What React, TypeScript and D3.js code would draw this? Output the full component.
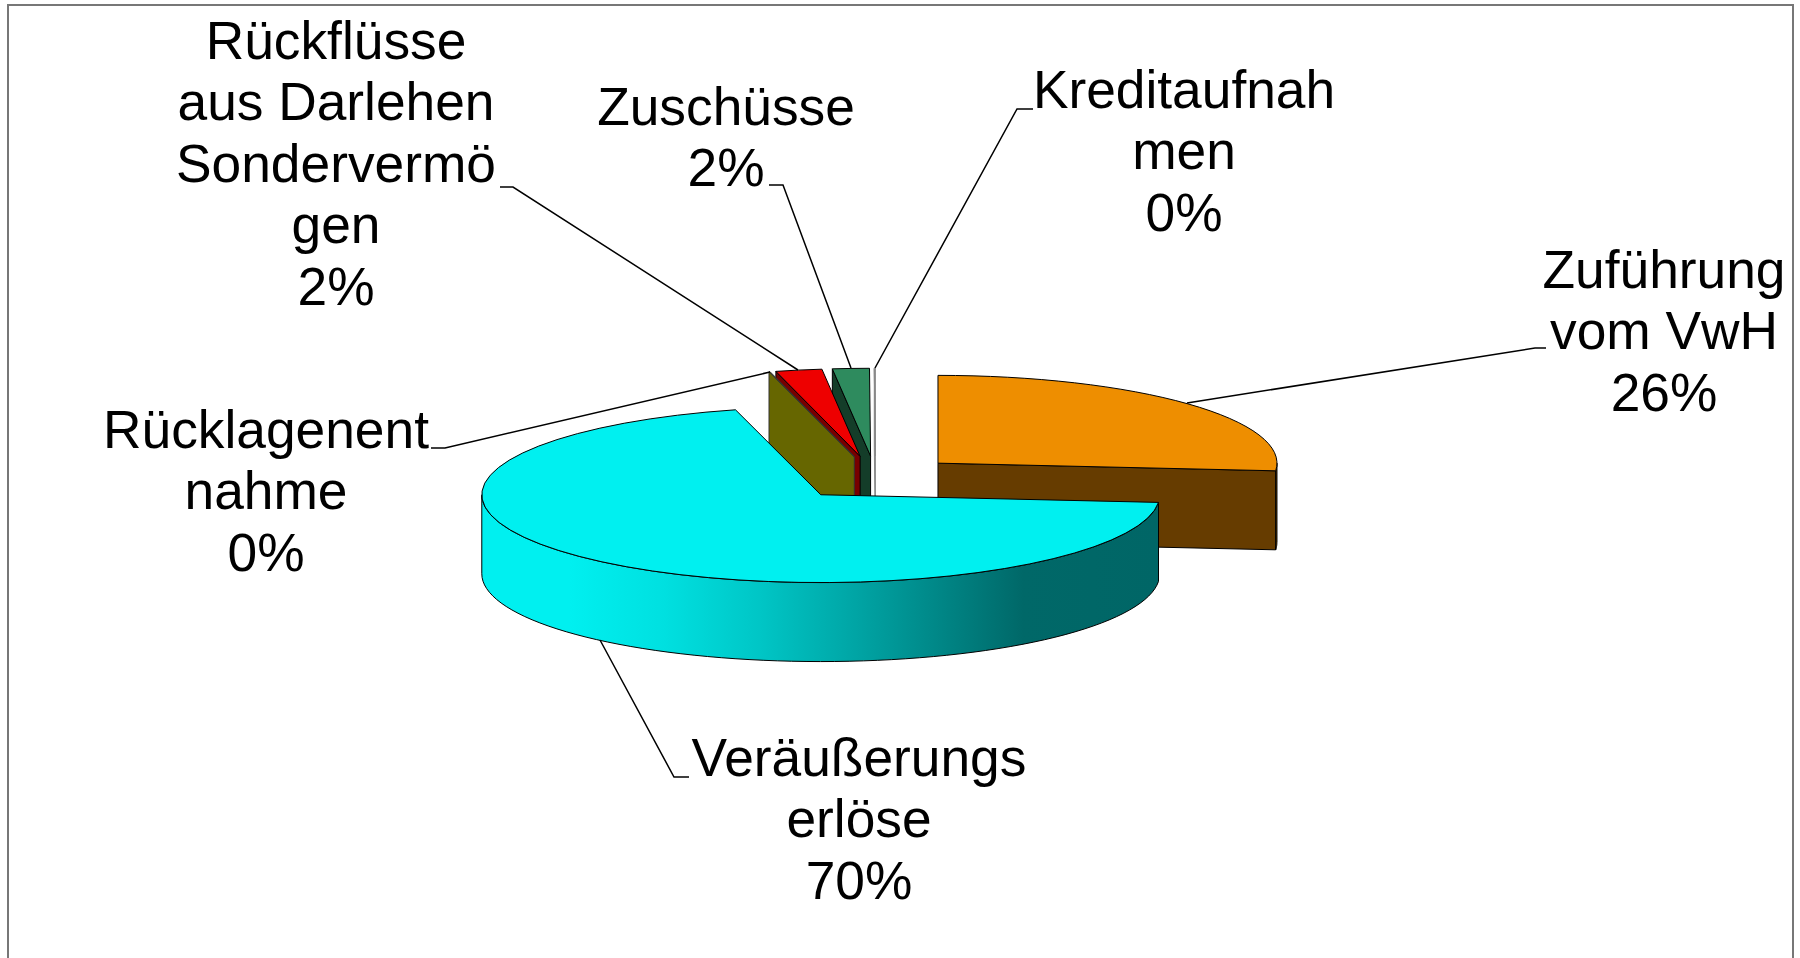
import React from 'react';
import * as d3 from 'd3';

const categories = ['Zuführung vom VwH', 'Veräußerungserlöse', 'Rücklagenentnahme', 'Rückflüsse aus Darlehen Sondervermögen', 'Zuschüsse', 'Kreditaufnahmen'];
// share of the total, percent
const shares = [26.4, 69.6, 0.05, 2.2, 1.75, 0.05];
const labelLines = [
  ['Zuführung', 'vom VwH'],
  ['Veräußerungs', 'erlöse'],
  ['Rücklagenent', 'nahme'],
  ['Rückflüsse', 'aus Darlehen', 'Sondervermö', 'gen'],
  ['Zuschüsse'],
  ['Kreditaufnah', 'men'],
];
const topColors = ['#ee8e00', '#00f0f0', '#666600', '#ee0000', '#2e8b5e', '#9a9a9a'];
const wallColors = ['#663c00', '#00f0f0', '#666600', '#770000', '#143d29', '#9a9a9a'];
const edgeColors = ['#000', '#000', '#333', '#000', '#000', '#888'];
// back to front
const drawOrder = [0, 5, 4, 3, 2, 1];

// label centre x, first baseline y
const labelPos = [
  [1664, 288],
  [859, 776],
  [266, 448],
  [336, 59],
  [726, 125],
  [1184, 108],
];
// leader line: rim point, elbow, end at the label
const leaders = [
  [[1187, 403], [1535, 348], [1546, 348]],
  [[600, 640], [674, 777], [689, 777]],
  [[770, 372], [445, 448], [431, 448]],
  [[798, 370], [513, 187], [500, 187]],
  [[851, 368], [783, 185], [769, 185]],
  [[875, 368], [1017, 109], [1033, 109]],
];

const width = 1800;
const height = 958;
const cx = 875.5;
const cy = 478;
const rx = 339;
const ry = 87.8;
const depth = 79;
const explode = 0.25;
const fontSize = 53.3;
const lineStep = 61.4;

const x = d3.scaleLinear().domain([-1, 1]).range([cx - rx, cx + rx]);
const y = d3.scaleLinear().domain([-1, 1]).range([cy - ry, cy + ry]);

const pie = d3.pie<number>().sort(null);
const arcs = pie(shares);
const arcGen = d3.arc<d3.PieArcDatum<number>>().innerRadius(0).outerRadius(1000);
const percent = d3.format('.0%');
const total = d3.sum(shares);
const line = d3.line<number[]>();

// point on the unit circle, moved out by the explosion, in screen coordinates
const rim = (angle: number, ox: number, oy: number, r = 1, drop = 0) => [
  x(ox + r * Math.sin(angle)),
  y(oy - r * Math.cos(angle)) + drop,
];

export default function App() {
  return (
    <svg width={width} height={height} style={{ position: 'absolute', left: 0, top: 0, display: 'block' }} fontFamily="'Liberation Sans', Arial, sans-serif">
      <defs>
        <linearGradient id="cyanWall" gradientUnits="userSpaceOnUse" x1={481} x2={1159} y1={0} y2={0}>
          <stop offset="0" stopColor="#00f0f0" />
          <stop offset="0.13" stopColor="#00f0f0" />
          <stop offset="0.27" stopColor="#00e0e0" />
          <stop offset="0.41" stopColor="#00c6c6" />
          <stop offset="0.56" stopColor="#00a3a3" />
          <stop offset="0.8" stopColor="#006868" />
          <stop offset="1" stopColor="#006666" />
        </linearGradient>
      </defs>
      <rect width={width} height={height} fill="#fff" />
      <path d="M8,958V5H1793V958" fill="none" stroke="#777" strokeWidth={2} />

      {drawOrder.map((i) => {
        const a = arcs[i];
        const mid = (a.startAngle + a.endAngle) / 2;
        const ox = explode * Math.sin(mid);
        const oy = -explode * Math.cos(mid);
        const edge = edgeColors[i];
        const wallFill = i === 1 ? 'url(#cyanWall)' : wallColors[i];

        // the edge walls that face the viewer
        const startVisible = Math.sin(a.startAngle) < 0;
        const endVisible = Math.sin(a.endAngle) > 0;
        const wall = (angle: number) =>
          line([
            rim(angle, ox, oy, 0),
            rim(angle, ox, oy),
            rim(angle, ox, oy, 1, depth),
            rim(angle, ox, oy, 0, depth),
          ]) + 'Z';

        // outer wall, only the front half of the rim
        const from = Math.max(a.startAngle, Math.PI / 2);
        const to = Math.min(a.endAngle, (3 * Math.PI) / 2);
        let outer = null;
        if (to > from) {
          const steps = d3.range(0, 73).map((k) => from + ((to - from) * k) / 72);
          const pts = [
            ...steps.map((t) => rim(t, ox, oy)),
            ...steps.slice().reverse().map((t) => rim(t, ox, oy, 1, depth)),
          ];
          outer = line(pts) + 'Z';
        }

        return (
          <g key={categories[i]}>
            {startVisible && <path d={wall(a.startAngle)} fill={wallColors[i]} stroke={edge} strokeWidth={1} />}
            {endVisible && <path d={wall(a.endAngle)} fill={wallColors[i]} stroke={edge} strokeWidth={1} />}
            {outer && <path d={outer} fill={wallFill} stroke={edge} strokeWidth={1} />}
            <path
              d={arcGen(a) || ''}
              transform={`translate(${x(ox)},${y(oy)}) scale(${rx / 1000},${ry / 1000})`}
              fill={topColors[i]}
              stroke={edge}
              strokeWidth={1}
              vectorEffect="non-scaling-stroke"
            />
          </g>
        );
      })}

      {leaders.map((pts, i) => (
        <path key={i} d={line(pts) || ''} fill="none" stroke="#000" strokeWidth={1.5} />
      ))}

      {categories.map((c, i) => {
        const lines = [...labelLines[i], percent(shares[i] / total)];
        return (
          <text key={c} textAnchor="middle" fontSize={fontSize} fill="#000">
            {lines.map((t, k) => (
              <tspan key={k} x={labelPos[i][0]} y={labelPos[i][1] + k * lineStep}>
                {t}
              </tspan>
            ))}
          </text>
        );
      })}
    </svg>
  );
}
